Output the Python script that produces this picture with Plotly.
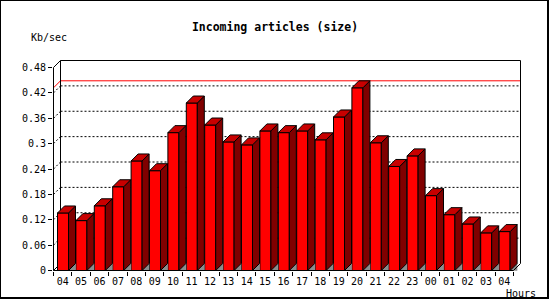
import plotly.graph_objects as go

# ---- data ----
hours = ["04", "05", "06", "07", "08", "09", "10", "11", "12", "13", "14", "15", "16",
         "17", "18", "19", "20", "21", "22", "23", "00", "01", "02", "03", "04"]
kbps = [0.136, 0.118, 0.153, 0.198, 0.259, 0.236, 0.326, 0.396, 0.344, 0.304, 0.297, 0.330,
        0.326, 0.330, 0.309, 0.363, 0.432, 0.302, 0.246, 0.271, 0.177, 0.132, 0.110, 0.089, 0.092]
y_ticks = [0, 0.06, 0.12, 0.18, 0.24, 0.3, 0.36, 0.42, 0.48]
y_tick_text = ["0", "0.06", "0.12", "0.18", "0.24", "0.3", "0.36", "0.42", "0.48"]

# ---- geometry (pixels -> data units) ----
W, H = 550, 300
PX_X = 18.4           # pixels per category slot
PX_Y = 203 / 0.48     # pixels per unit of value
L, T = 53, 60
R_EDGE, B_EDGE = 521, 271
ax0 = 53.5            # screen x of value x=0
ay0 = 270.5           # screen y of value y=0
x0 = (L - ax0) / PX_X
x1 = (R_EDGE - ax0) / PX_X
y0 = (ay0 - B_EDGE) / PX_Y
y1 = (ay0 - T) / PX_Y
dx = 7 / PX_X
dy = 7 / PX_Y
off = 4 / PX_X
bw = 11 / PX_X
n = len(kbps)
top = y_ticks[-1] + dy


def xp(x):
    return (x - x0) / (x1 - x0)


def yp(y):
    return (y - y0) / (y1 - y0)


def pxp(px):
    return (px - L) / (R_EDGE - L)


def pyp(py):
    return (B_EDGE - py) / (B_EDGE - T)


fig = go.Figure()

# floor triangles under side faces
fx, fy = [], []
for i, v in enumerate(kbps):
    xr = i + off + bw
    fx += [xr, xr + dx, xr + dx, xr, None]
    fy += [0, dy, 0, 0, None]
fig.add_trace(go.Scatter(x=fx, y=fy, mode="lines", fill="toself", fillcolor="#8c8c8c",
                         line=dict(color="#8c8c8c", width=0.5), hoverinfo="skip", showlegend=False))

# front faces
fig.add_trace(go.Bar(x=[i + off + bw / 2 for i in range(n)], y=kbps, width=bw,
                     marker=dict(color="#FF0000", line=dict(color="black", width=1)),
                     showlegend=False))

# side faces
sx, sy = [], []
for i, v in enumerate(kbps):
    xr = i + off + bw
    sx += [xr, xr + dx, xr + dx, xr, xr, None]
    sy += [0, dy, v + dy, v, 0, None]
fig.add_trace(go.Scatter(x=sx, y=sy, mode="lines", fill="toself", fillcolor="#800000",
                         line=dict(color="black", width=1), hoverinfo="skip", showlegend=False))

# top faces
tx, ty = [], []
for i, v in enumerate(kbps):
    xl = i + off
    xr = xl + bw
    tx += [xl, xl + dx, xr + dx, xr, xl, None]
    ty += [v, v + dy, v + dy, v, v, None]
fig.add_trace(go.Scatter(x=tx, y=ty, mode="lines", fill="toself", fillcolor="#C80000",
                         line=dict(color="black", width=1), hoverinfo="skip", showlegend=False))

shapes = []


def seg(xa, ya, xb, yb, color="black", width=1, dash="solid", layer="below"):
    shapes.append(dict(type="line", xref="paper", yref="paper",
                       x0=xp(xa), y0=yp(ya), x1=xp(xb), y1=yp(yb), layer=layer,
                       line=dict(color=color, width=width, dash=dash)))


# grid on back wall and left wall
for v in y_ticks[1:-1]:
    seg(dx, v + dy, n + dx, v + dy, dash="2px,2px")
    seg(0, v, dx, v + dy, dash="2px,2px")

# max line
m = max(kbps)
seg(0, m, dx, m + dy, color="#FF0000")
seg(dx, m + dy, n + dx, m + dy, color="#FF0000")

# back wall frame
seg(dx, dy, dx, top)
seg(dx, top, n + dx, top)
seg(n + dx, top, n + dx, dy)
seg(0, 0, dx, dy)

# front axes
seg(0, 0, 0, y_ticks[-1], layer="above")
seg(0, y_ticks[-1], dx, top, layer="above")
seg(0, 0, n, 0, layer="above")
seg(n, 0, n + dx, dy, layer="above")

# outer border
shapes.append(dict(type="line", xref="paper", yref="paper", x0=pxp(0.5), x1=pxp(0.5),
                   y0=pyp(0), y1=pyp(299), line=dict(color="black", width=1)))
shapes.append(dict(type="line", xref="paper", yref="paper", x0=pxp(0), x1=pxp(549),
                   y0=pyp(0.5), y1=pyp(0.5), line=dict(color="black", width=1)))
shapes.append(dict(type="line", xref="paper", yref="paper", x0=pxp(548), x1=pxp(548),
                   y0=pyp(0), y1=pyp(299), line=dict(color="black", width=2)))
shapes.append(dict(type="line", xref="paper", yref="paper", x0=pxp(0), x1=pxp(549),
                   y0=pyp(298), y1=pyp(298), line=dict(color="black", width=2)))

mono = "DejaVu Sans Mono"
annotations = [
    dict(text="Kb/sec", xref="paper", yref="paper", x=pxp(29), y=pyp(37),
         xanchor="left", yanchor="middle", showarrow=False,
         font=dict(family=mono, size=10, color="black")),
    dict(text="Hours", xref="paper", yref="paper", x=pxp(504), y=pyp(293),
         xanchor="left", yanchor="middle", showarrow=False,
         font=dict(family=mono, size=10, color="black")),
]

fig.update_layout(
    width=W, height=H,
    margin=dict(l=L, r=W - R_EDGE, t=T, b=H - B_EDGE, pad=0),
    paper_bgcolor="white", plot_bgcolor="white",
    title=dict(text="<b>Incoming articles (size)</b>", x=0.5, xref="container", xanchor="center",
               y=1 - 27 / H, yref="container", yanchor="middle",
               font=dict(family=mono, size=11.5, color="black")),
    shapes=shapes, annotations=annotations,
    xaxis=dict(range=[x0, x1], showgrid=False, zeroline=False, showline=False,
               tickmode="array", tickvals=[i + 0.5 for i in range(n)], ticktext=hours,
               ticks="", ticklabelstandoff=3, tickfont=dict(family=mono, size=10, color="black"),
               minor=dict(tickmode="array", tickvals=list(range(n + 1)), ticks="outside",
                          ticklen=4, tickcolor="black", tickwidth=1, showgrid=False),
               fixedrange=True),
    yaxis=dict(range=[y0, y1], showgrid=False, zeroline=False, showline=False,
               tickmode="array", tickvals=y_ticks, ticktext=y_tick_text,
               ticks="outside", ticklen=4, tickcolor="black", tickwidth=1,
               tickfont=dict(family=mono, size=10, color="black"), fixedrange=True),
)

fig.write_html("out.html")
